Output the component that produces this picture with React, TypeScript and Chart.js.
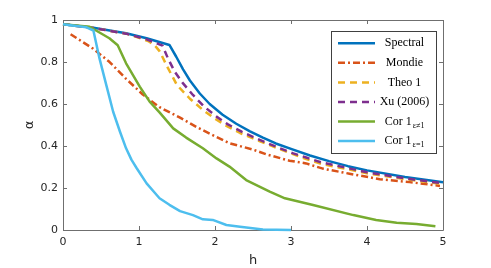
import React, { useEffect, useRef } from "react";
import { Chart, registerables } from "chart.js";

Chart.register(...registerables);

// ---- Data ----
const xTickValues = [0, 1, 2, 3, 4, 5];
const yTickValues = [0, 0.2, 0.4, 0.6, 0.8, 1];

const seriesNames = ["Spectral", "Mondie", "Theo 1", "Xu (2006)", "Cor 1", "Cor 1"];
const seriesSubscripts = ["", "", "", "", "ε≠1", "ε=1"];
const seriesColors = ["#0072BD", "#D95319", "#EDB120", "#7E2F8E", "#77AC30", "#4DBEEE"];
const seriesDashes: number[][] = [[], [7, 3, 2, 3], [7, 5], [7, 5], [], []];

const spectralH = [0, 0.4, 0.83, 1.1, 1.4, 1.49, 1.58, 1.67, 1.8, 1.93, 2.1, 2.28, 2.46, 2.63, 2.8, 3.0, 3.25, 3.5, 3.75, 4.0, 4.5, 5.0];
const spectralA = [0.98, 0.963, 0.937, 0.913, 0.881, 0.825, 0.765, 0.712, 0.65, 0.6, 0.549, 0.506, 0.47, 0.44, 0.412, 0.386, 0.355, 0.328, 0.304, 0.284, 0.252, 0.227];

const mondieH = [0.1, 0.39, 0.61, 0.83, 1.05, 1.27, 1.54, 1.76, 1.97, 2.19, 2.5, 2.68, 2.98, 3.2, 3.42, 3.77, 4.17, 4.56, 4.96];
const mondieA = [0.932, 0.865, 0.801, 0.72, 0.645, 0.585, 0.535, 0.49, 0.452, 0.413, 0.383, 0.36, 0.33, 0.317, 0.292, 0.268, 0.242, 0.228, 0.21];

const theoH = [0, 0.4, 0.83, 1.0, 1.12, 1.2, 1.27, 1.38, 1.5, 1.67, 1.84, 2.0, 2.15, 2.33, 2.5, 2.68, 2.85, 3.2, 3.4, 4.0, 4.5, 5.0];
const theoA = [0.98, 0.962, 0.935, 0.915, 0.9, 0.882, 0.852, 0.772, 0.69, 0.625, 0.572, 0.53, 0.496, 0.462, 0.436, 0.41, 0.385, 0.338, 0.315, 0.27, 0.242, 0.219];

const xuH = [0, 0.4, 0.83, 1.1, 1.31, 1.38, 1.47, 1.58, 1.71, 1.86, 2.02, 2.17, 2.35, 2.52, 2.68, 2.85, 3.03, 3.2, 3.4, 4.0, 4.5, 5.0];
const xuA = [0.98, 0.962, 0.935, 0.908, 0.878, 0.818, 0.754, 0.698, 0.643, 0.587, 0.54, 0.503, 0.468, 0.44, 0.415, 0.39, 0.365, 0.345, 0.322, 0.275, 0.246, 0.222];

const corNeqH = [0, 0.35, 0.61, 0.72, 0.83, 1.01, 1.14, 1.27, 1.45, 1.62, 1.84, 2.02, 2.19, 2.41, 2.72, 2.92, 3.29, 3.82, 4.12, 4.39, 4.65, 4.9];
const corNeqA = [0.98, 0.968, 0.913, 0.88, 0.794, 0.683, 0.611, 0.56, 0.484, 0.44, 0.389, 0.341, 0.302, 0.238, 0.183, 0.151, 0.119, 0.071, 0.048, 0.035, 0.029, 0.018];

const corEqH = [0, 0.15, 0.31, 0.4, 0.48, 0.57, 0.66, 0.75, 0.83, 0.9, 0.97, 1.1, 1.27, 1.4, 1.54, 1.71, 1.84, 1.97, 2.15, 2.33, 2.63, 3.0];
const corEqA = [0.98, 0.973, 0.965, 0.95, 0.817, 0.69, 0.563, 0.468, 0.389, 0.335, 0.294, 0.222, 0.151, 0.12, 0.09, 0.071, 0.051, 0.048, 0.024, 0.016, 0.002, 0];

const seriesH = [spectralH, mondieH, theoH, xuH, corNeqH, corEqH];
const seriesA = [spectralA, mondieA, theoA, xuA, corNeqA, corEqA];

const AXIS_COLOR = "#6f6f6f";
const TEXT_COLOR = "#262626";

const framePlugin = {
  id: "frame",
  beforeDatasetsDraw(chart: any) {
    const { ctx, chartArea, scales } = chart;
    const { left, right, top, bottom } = chartArea;
    ctx.save();
    ctx.strokeStyle = AXIS_COLOR;
    ctx.lineWidth = 1;
    ctx.beginPath();
    ctx.rect(Math.round(left) + 0.5, Math.round(top) + 0.5, Math.round(right - left), Math.round(bottom - top));
    const tl = 4;
    xTickValues.forEach((v) => {
      const px = Math.round(scales.x.getPixelForValue(v)) + 0.5;
      ctx.moveTo(px, bottom);
      ctx.lineTo(px, bottom - tl);
      ctx.moveTo(px, top);
      ctx.lineTo(px, top + tl);
    });
    yTickValues.forEach((v) => {
      const py = Math.round(scales.y.getPixelForValue(v)) + 0.5;
      ctx.moveTo(left, py);
      ctx.lineTo(left + tl, py);
      ctx.moveTo(right, py);
      ctx.lineTo(right - tl, py);
    });
    ctx.stroke();
    ctx.restore();
  },
};

const legendPlugin = {
  id: "customLegend",
  afterDraw(chart: any) {
    const { ctx } = chart;
    const bx = 331.5, by = 31.5, bw = 105, bh = 122;
    ctx.save();
    ctx.fillStyle = "#ffffff";
    ctx.fillRect(bx, by, bw, bh);
    ctx.strokeStyle = "#404040";
    ctx.lineWidth = 1;
    ctx.strokeRect(bx, by, bw, bh);
    const rowY0 = 43.3;
    const rowStep = 19.55;
    const mainFont = "12px 'Liberation Serif', 'DejaVu Serif', serif";
    const subFont = "8px 'Liberation Serif', 'DejaVu Serif', serif";
    seriesNames.forEach((name, i) => {
      const y = rowY0 + i * rowStep;
      ctx.strokeStyle = seriesColors[i];
      ctx.lineWidth = 2.5;
      ctx.setLineDash(seriesDashes[i]);
      ctx.beginPath();
      ctx.moveTo(338, y);
      ctx.lineTo(375, y);
      ctx.stroke();
      ctx.setLineDash([]);
      ctx.fillStyle = "#000000";
      ctx.textBaseline = "middle";
      ctx.textAlign = "left";
      ctx.font = mainFont;
      const w1 = ctx.measureText(name).width;
      const sub = seriesSubscripts[i];
      ctx.font = subFont;
      const w2 = sub ? ctx.measureText(sub).width + 1 : 0;
      const cx = 404.5;
      const startX = cx - (w1 + w2) / 2;
      ctx.font = mainFont;
      ctx.fillText(name, startX, y);
      if (sub) {
        ctx.font = subFont;
        ctx.fillText(sub, startX + w1 + 1, y + 4);
      }
    });
    ctx.restore();
  },
};

export default function App() {
  const canvasRef = useRef<HTMLCanvasElement | null>(null);

  useEffect(() => {
    document.body.style.margin = "0";
    document.body.style.overflow = "hidden";
    const canvas = canvasRef.current;
    if (!canvas) return;

    const datasets = seriesNames.map((name, i) => ({
      label: name + (seriesSubscripts[i] ? "_" + seriesSubscripts[i] : ""),
      data: seriesH[i].map((h, j) => ({ x: h, y: seriesA[i][j] })),
      borderColor: seriesColors[i],
      backgroundColor: seriesColors[i],
      borderWidth: 2.5,
      borderDash: seriesDashes[i],
      borderJoinStyle: "round" as const,
      pointRadius: 0,
      fill: false,
      tension: 0,
      clip: false as any,
      order: 6 - i,
    }));

    const chart = new Chart(canvas, {
      type: "line",
      data: { datasets },
      options: {
        responsive: false,
        animation: false,
        devicePixelRatio: 1,
        layout: { padding: { top: 20, right: 48, bottom: 0, left: 0 } },
        plugins: { legend: { display: false }, tooltip: { enabled: false } },
        scales: {
          x: {
            type: "linear",
            min: 0,
            max: 5,
            afterFit: (scale: any) => {
              scale.height = 38;
            },
            afterBuildTicks: (scale: any) => {
              scale.ticks = xTickValues.map((v) => ({ value: v }));
            },
            grid: { display: false, drawTicks: false },
            border: { display: false },
            ticks: {
              color: TEXT_COLOR,
              font: { family: "'DejaVu Sans', sans-serif", size: 11 },
              padding: 6,
              maxRotation: 0,
            },
            title: {
              display: true,
              text: "h",
              color: TEXT_COLOR,
              font: { family: "'DejaVu Sans', sans-serif", size: 13 },
              padding: { top: 0, bottom: 0 },
            },
          },
          y: {
            type: "linear",
            min: 0,
            max: 1,
            afterFit: (scale: any) => {
              scale.width = 63;
            },
            afterBuildTicks: (scale: any) => {
              scale.ticks = yTickValues.map((v) => ({ value: v }));
            },
            grid: { display: false, drawTicks: false },
            border: { display: false },
            ticks: {
              color: TEXT_COLOR,
              font: { family: "'DejaVu Sans', sans-serif", size: 11 },
              padding: 5,
              callback: (v: any) => String(Number(v)),
            },
            title: {
              display: true,
              text: "α",
              color: TEXT_COLOR,
              font: { family: "'DejaVu Sans', sans-serif", size: 13 },
              padding: { top: 22, bottom: 0 },
            },
          },
        },
      },
      plugins: [framePlugin, legendPlugin],
    });

    return () => {
      chart.destroy();
    };
  }, []);

  return (
    <div style={{ width: 491, height: 268, background: "#ffffff" }}>
      <canvas ref={canvasRef} width={491} height={268} style={{ display: "block" }} />
    </div>
  );
}
